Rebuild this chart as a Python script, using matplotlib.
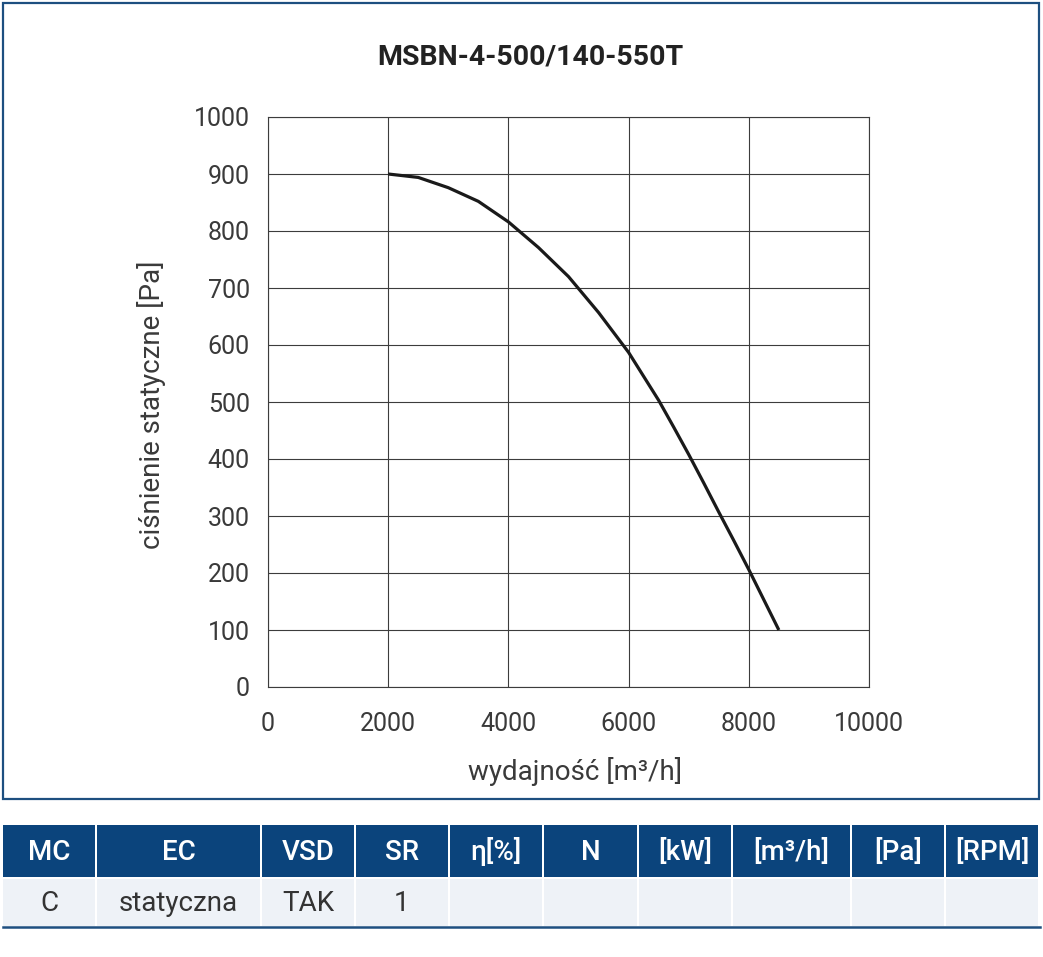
import matplotlib
matplotlib.use("Agg")
import matplotlib.pyplot as plt
from matplotlib.patches import Rectangle

plt.rcParams['font.family'] = ['Roboto', 'DejaVu Sans']

# ---- data ----
title = "MSBN-4-500/140-550T"
flow = [2000, 2500, 3000, 3500, 4000, 4500, 5000, 5500, 6000, 6250, 6500, 6750,
        7000, 7250, 7500, 7750, 8000, 8250, 8500]
pressure = [900, 894, 876, 852, 816, 771, 720, 657, 587, 545, 503, 456,
            408, 358, 307, 257, 206, 153, 100]
x_ticks = [0, 2000, 4000, 6000, 8000, 10000]
y_ticks = [0, 100, 200, 300, 400, 500, 600, 700, 800, 900, 1000]
x_label = "wydajność [m³/h]"
y_label = "ciśnienie statyczne [Pa]"
table_header = ["MC", "EC", "VSD", "SR", "η[%]", "N", "[kW]", "[m³/h]", "[Pa]", "[RPM]"]
table_row = ["C", "statyczna", "TAK", "1", "", "", "", "", "", ""]

W, H = 1043, 957
fig = plt.figure(figsize=(W / 100, H / 100), dpi=100)

# overlay for frame and table (pixel coords)
ov = fig.add_axes([0, 0, 1, 1])
ov.set_xlim(0, W)
ov.set_ylim(H, 0)
ov.axis('off')
blue = '#0b447c'
ov.add_patch(Rectangle((3, 3), 1036, 796, fill=False, edgecolor='#1d4f80', linewidth=1.6))

# chart
ax = fig.add_axes([268 / W, 1 - 687 / H, (869 - 268) / W, (687 - 117) / H])
ax.plot(flow, pressure, color='#1a1a1a', linewidth=2.3, solid_capstyle='butt',
        solid_joinstyle='round', zorder=3)
ax.set_xlim(0, 10000)
ax.set_ylim(0, 1000)
ax.set_xticks(x_ticks)
ax.set_yticks(y_ticks)
ax.grid(True, color='#3c3c3c', linewidth=0.8)
for s in ax.spines.values():
    s.set_color('#3c3c3c')
    s.set_linewidth(0.8)
ax.tick_params(axis='y', length=0, labelsize=18, labelcolor='#3a3a3a', pad=13)
ax.tick_params(axis='x', length=0, labelsize=18, labelcolor='#3a3a3a', pad=18)
ax.set_axisbelow(True)

fig.text(530 / W, 1 - 57 / H, title, ha='center', va='center', fontsize=20.5,
         fontweight='bold', color='#222222')
fig.text(575 / W, 1 - 772 / H, x_label, ha='center', va='center', fontsize=20,
         color='#3a3a3a')
fig.text(152 / W, 1 - 405 / H, y_label, ha='center', va='center', fontsize=20,
         color='#3a3a3a', rotation=90)

# table
col_edges = [3, 97, 262, 356, 450, 544, 639, 733, 852, 946, 1040]
hy0, hy1 = 825, 877
by0, by1 = 879, 926
for i in range(len(table_header)):
    x0, x1 = col_edges[i], col_edges[i + 1]
    ov.add_patch(Rectangle((x0, hy0), x1 - x0 - 2, hy1 - hy0, facecolor=blue, edgecolor='none'))
    ov.add_patch(Rectangle((x0, by0), x1 - x0 - 2, by1 - by0, facecolor='#eef2f7', edgecolor='none'))
    ov.text((x0 + x1 - 2) / 2, (hy0 + hy1) / 2 + 1, table_header[i], ha='center', va='center',
            fontsize=20, fontweight='medium', color='white')
    ov.text((x0 + x1 - 2) / 2, (by0 + by1) / 2 + 1, table_row[i], ha='center', va='center',
            fontsize=20, color='#333333')
ov.plot([3, 1040], [927, 927], color='#1d4f80', linewidth=1.8)

fig.savefig('out.png', dpi=100)
